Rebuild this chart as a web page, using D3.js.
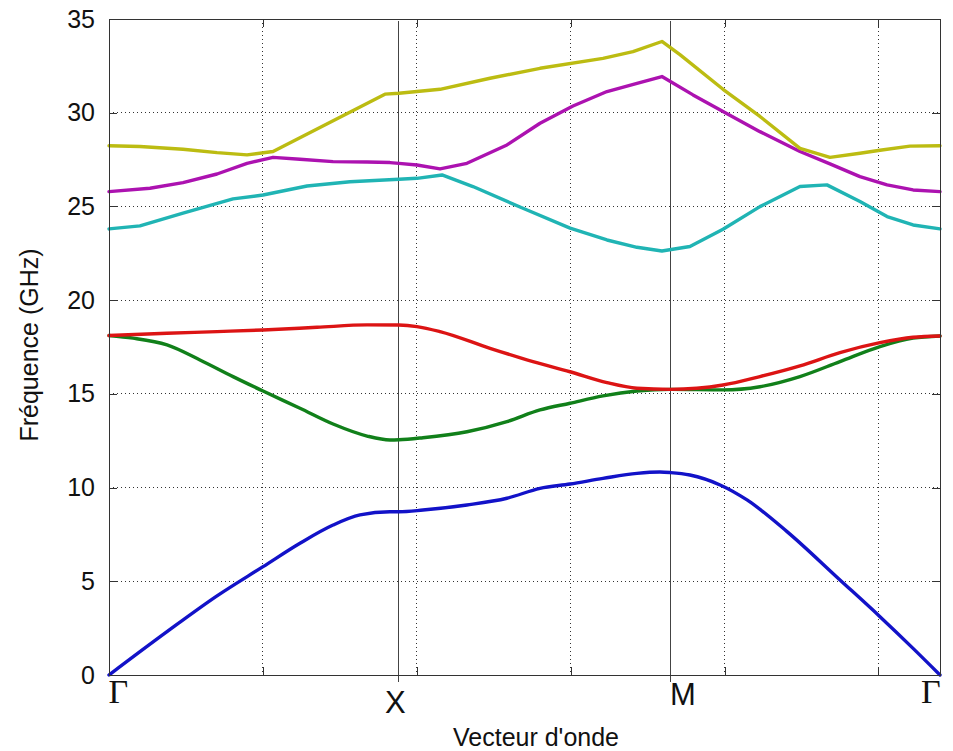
<!DOCTYPE html>
<html>
<head>
<meta charset="utf-8">
<script src="https://cdn.jsdelivr.net/npm/d3@7/dist/d3.min.js"></script>
<style>
  html, body { margin: 0; padding: 0; background: #ffffff; }
  svg { display: block; }
  text { font-family: Arial, "Liberation Sans", sans-serif; fill: #111; }
</style>
</head>
<body>
<svg id="chart" width="953" height="751"></svg>
<script>
// ---- data ----
const kDomain = [0, 54];
const fDomain = [0, 35];
const xTicks = [0, 10, 20, 30, 40, 50];
const yTicks = [0, 5, 10, 15, 20, 25, 30, 35];
const symPoints = [18.84, 36.49];           // X and M vertical lines
const symLabels = ["Γ", "X", "M", "Γ"];
const symLabelPos = [0.6, 18.6, 37.3, 53.4];
const bandColors = ["#1212c8", "#11801a", "#dc1414", "#20b4b4", "#ac12b0", "#bcbc12"];

const band1 = [[0,0],[3.77,2.31],[7.02,4.22],[10.01,5.78],[12.41,7.03],[14.56,8.0],[16.31,8.54],[18.26,8.71],[18.84,8.71],[20.40,8.8],[23.26,9.07],[25.86,9.43],[28.01,9.96],[29.96,10.19],[32.10,10.49],[34.31,10.76],[35.80,10.83],[36.49,10.8],[37.75,10.67],[39.71,10.14],[41.46,9.34],[44.06,7.65],[47.50,5.07],[50.10,3.11],[52.25,1.42],[54,0]];
const band2 = [[0,18.11],[1.56,17.97],[3.77,17.61],[5.91,16.81],[8.06,15.92],[10.01,15.15],[12.41,14.23],[14.56,13.39],[16.77,12.75],[18.26,12.54],[18.84,12.55],[20.40,12.66],[23.26,12.98],[25.86,13.52],[28.01,14.14],[29.96,14.5],[32.10,14.89],[34.31,15.15],[36.49,15.24],[39.90,15.21],[42.30,15.38],[44.90,15.92],[47.50,16.72],[50.10,17.52],[52.25,17.97],[54,18.09]];
const band3 = [[0,18.11],[3.77,18.23],[7.02,18.32],[10.01,18.41],[13.52,18.55],[16.77,18.68],[18.84,18.67],[20.01,18.59],[21.51,18.32],[24.76,17.43],[27.55,16.72],[29.96,16.18],[32.36,15.6],[34.31,15.3],[36.49,15.24],[39.90,15.47],[42.30,15.92],[44.90,16.49],[47.50,17.2],[50.10,17.73],[52.25,18.02],[54,18.09]];
const band4 = [[0,23.8],[2.01,23.96],[4.81,24.64],[8.06,25.4],[10.01,25.61],[12.87,26.09],[15.66,26.32],[18.84,26.45],[20.01,26.5],[21.64,26.68],[23.65,26.06],[26.90,24.9],[29.96,23.84],[32.36,23.21],[34.31,22.82],[35.93,22.62],[37.75,22.86],[39.90,23.78],[42.30,24.99],[44.90,26.06],[46.65,26.15],[48.80,25.26],[50.56,24.46],[52.25,24.01],[54,23.8]];
const band5 = [[0,25.79],[2.66,25.97],[4.81,26.27],[7.02,26.73],[8.97,27.3],[10.66,27.62],[12.41,27.52],[14.56,27.39],[16.77,27.37],[18.26,27.34],[18.84,27.3],[20.01,27.21],[21.51,27.0],[23.26,27.3],[25.86,28.28],[28.01,29.44],[30.15,30.36],[32.36,31.13],[34.31,31.57],[35.93,31.93],[37.95,30.95],[39.90,30.06],[42.30,28.99],[44.90,27.93],[46.85,27.27],[48.80,26.59],[50.56,26.15],[52.25,25.88],[54,25.79]];
const band6 = [[0,28.24],[2.01,28.2],[4.81,28.05],[7.02,27.87],[8.97,27.75],[10.66,27.93],[17.93,30.99],[18.84,31.04],[20.01,31.13],[21.51,31.25],[24.76,31.84],[28.01,32.37],[32.10,32.9],[34.05,33.26],[35.93,33.8],[37.10,33.1],[39.90,31.25],[42.30,29.8],[44.90,28.1],[46.85,27.62],[48.80,27.84],[50.10,28.0],[52.05,28.22],[54,28.24]];
const bands = [band1, band2, band3, band4, band5, band6];
const smoothBand = [true, true, true, false, false, false];

// ---- layout ----
const L = 109, R = 940, T = 19, B = 675;
const svg = d3.select("#chart");
const x = d3.scaleLinear().domain(kDomain).range([L, R]);
const y = d3.scaleLinear().domain(fDomain).range([B, T]);

// grid
const grid = svg.append("g");
grid.selectAll("line.hg").data(yTicks.filter(v => v > fDomain[0] && v < fDomain[1]))
  .enter().append("line")
  .attr("x1", L).attr("x2", R).attr("y1", d => y(d)).attr("y2", d => y(d))
  .attr("stroke", "#333").attr("stroke-width", 1).attr("stroke-dasharray", "1,3")
  .attr("shape-rendering", "crispEdges");
grid.selectAll("line.vg").data(xTicks.filter(v => v > kDomain[0] && v < kDomain[1]))
  .enter().append("line")
  .attr("x1", d => x(d)).attr("x2", d => x(d)).attr("y1", T).attr("y2", B)
  .attr("stroke", "#333").attr("stroke-width", 1).attr("stroke-dasharray", "1,3")
  .attr("shape-rendering", "crispEdges");

// symmetry point lines
svg.append("g").selectAll("line").data(symPoints).enter().append("line")
  .attr("x1", d => x(d)).attr("x2", d => x(d)).attr("y1", T + 2).attr("y2", B + 7)
  .attr("stroke", "#444").attr("stroke-width", 1).attr("shape-rendering", "crispEdges");

// bands
const lineSmooth = d3.line().x(d => x(d[0])).y(d => y(d[1])).curve(d3.curveMonotoneX);
const lineSharp = d3.line().x(d => x(d[0])).y(d => y(d[1])).curve(d3.curveLinear);
svg.append("g").selectAll("path").data(bands).enter().append("path")
  .attr("d", (d, i) => smoothBand[i] ? lineSmooth(d) : lineSharp(d)).attr("fill", "none")
  .attr("stroke", (d, i) => bandColors[i]).attr("stroke-width", 3.4)
  .attr("stroke-linejoin", "round").attr("stroke-linecap", "round");

// axes (box with inward ticks)
const tickLen = 8;
const axL = d3.axisLeft(y).tickValues(yTicks).tickSize(-tickLen).tickPadding(14).tickFormat(d3.format("d"));
const axR = d3.axisRight(y).tickValues(yTicks).tickSize(-tickLen).tickFormat("");
const axB = d3.axisBottom(x).tickValues(xTicks).tickSize(-tickLen).tickFormat("");
const axT = d3.axisTop(x).tickValues(xTicks).tickSize(-tickLen).tickFormat("");
function styleAxis(g) {
  g.select(".domain").remove();
  g.selectAll(".tick line").attr("stroke", "#333").attr("shape-rendering", "crispEdges");
}
svg.append("g").attr("transform", `translate(${L},0)`).call(axL).call(styleAxis)
  .selectAll("text").attr("font-size", 25).attr("font-family", "Arial, 'Liberation Sans', sans-serif").attr("fill", "#111");
svg.append("g").attr("transform", `translate(${R},0)`).call(axR).call(styleAxis);
svg.append("g").attr("transform", `translate(0,${B})`).call(axB).call(styleAxis);
svg.append("g").attr("transform", `translate(0,${T})`).call(axT).call(styleAxis);
svg.append("rect").attr("x", L).attr("y", T).attr("width", R - L).attr("height", B - T)
  .attr("fill", "none").attr("stroke", "#333").attr("stroke-width", 1).attr("shape-rendering", "crispEdges");

// symmetry labels
const labelBase = [703, 713, 705, 703];
svg.append("g").selectAll("text").data(symLabels).enter().append("text")
  .attr("x", (d, i) => x(symLabelPos[i]))
  .attr("y", (d, i) => labelBase[i])
  .attr("text-anchor", "middle")
  .attr("font-size", d => d === "Γ" ? 34 : 31)
  .style("font-family", d => d === "Γ" ? "'Liberation Serif', 'Times New Roman', serif" : "Arial, 'Liberation Sans', sans-serif")
  .text(d => d);

// axis titles
svg.append("text").attr("x", 536).attr("y", 746).attr("text-anchor", "middle")
  .attr("font-size", 25).text("Vecteur d'onde");
svg.append("text").attr("transform", "translate(38,345) rotate(-90)").attr("text-anchor", "middle")
  .attr("font-size", 25).text("Fréquence (GHz)");
</script>
</body>
</html>
